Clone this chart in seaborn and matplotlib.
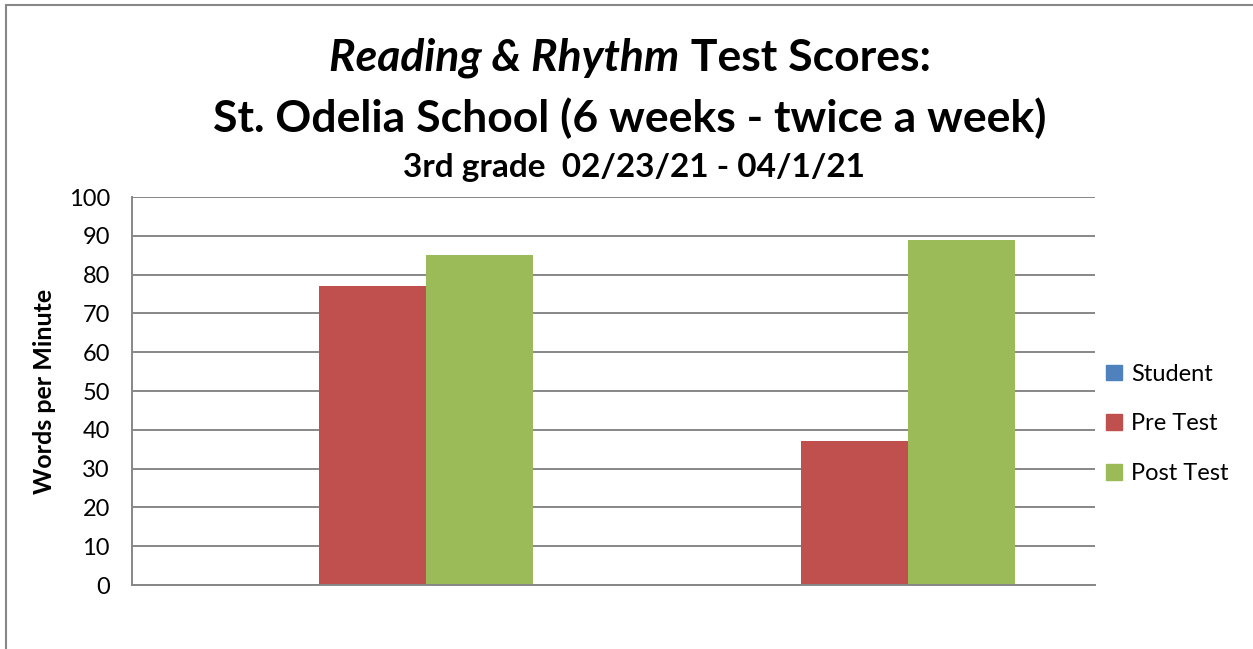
import matplotlib
matplotlib.use("Agg")
import matplotlib.pyplot as plt
import matplotlib.patches as mpatches
import pandas as pd
import seaborn as sns

# Data
groups = ["A", "B"]
series = ["Student", "Pre Test", "Post Test"]
student = [0, 0]
pre_test = [77, 37]
post_test = [85, 89]
colors = ["#4F81BD", "#C0504D", "#9BBB59"]

df = pd.DataFrame({
    "group": groups * 3,
    "series": ["Student"] * 2 + ["Pre Test"] * 2 + ["Post Test"] * 2,
    "value": student + pre_test + post_test,
})

sns.set_style("white")
plt.rcParams["font.family"] = ["Lato", "DejaVu Sans"]
plt.rcParams["text.color"] = "black"
plt.rcParams["ytick.color"] = "black"

fig = plt.figure(figsize=(12.53, 6.49), dpi=100)
ax = fig.add_axes([132 / 1253, 1 - 585 / 649, (1095 - 132) / 1253, (585 - 197) / 649])

sns.barplot(data=df, x="group", y="value", hue="series", hue_order=series,
            palette=colors, width=0.667, gap=0, ax=ax, legend=False,
            edgecolor="none", linewidth=0, saturation=1, errorbar=None)

ax.set_ylim(0, 100)
ax.set_xlim(-0.5, 1.5)
ax.set_yticks(range(0, 101, 10))
ax.yaxis.grid(True, color="#878787", linewidth=1.4)
ax.set_axisbelow(True)
ax.set_xticks([])
ax.set_xlabel("")
ax.set_ylabel("")
ax.tick_params(axis="y", length=0, pad=16, labelsize=17, labelcolor="black")
for s in ["top", "right"]:
    ax.spines[s].set_visible(False)
for s in ["left", "bottom"]:
    ax.spines[s].set_color("#878787")
    ax.spines[s].set_linewidth(1.4)

fig.text(45 / 1253, 1 - 391 / 649, "Words per Minute", fontsize=18, fontweight="bold",
         rotation=90, ha="center", va="center", color="black")

handles = [mpatches.Patch(color=c, label=l) for c, l in zip(colors, series)]
fig.legend(handles=handles, loc="center left", bbox_to_anchor=(1085 / 1253, 1 - 424 / 649),
           frameon=False, fontsize=17, handlelength=0.65, handleheight=0.65,
           handletextpad=0.4, labelspacing=1.22, labelcolor="black")

# Title: first line mixes italic and bold
t1 = fig.text(0, 1 - 58 / 649, "Reading & Rhythm", fontsize=32, fontweight="bold",
              fontstyle="italic", ha="left", va="center", color="black")
t2 = fig.text(0, 1 - 58 / 649, " Test Scores:", fontsize=32, fontweight="bold",
              ha="left", va="center", color="black")
fig.canvas.draw()
r = fig.canvas.get_renderer()
w1 = t1.get_window_extent(r).width
w2 = t2.get_window_extent(r).width
start = 630 - (w1 + w2) / 2
t1.set_x(start / 1253)
t2.set_x((start + w1) / 1253)

fig.text(630 / 1253, 1 - 118 / 649, "St. Odelia School (6 weeks - twice a week)",
         fontsize=32, fontweight="bold", ha="center", va="center", color="black")
fig.text(634 / 1253, 1 - 167 / 649, "3rd grade  02/23/21 - 04/1/21",
         fontsize=24, fontweight="bold", ha="center", va="center", color="black")

# outer chart frame
fig.patches.append(mpatches.Rectangle((6 / 1253, -0.1), 1.2, 1 - 5 / 649 + 0.1,
                                      transform=fig.transFigure, fill=False,
                                      edgecolor="#878787", linewidth=1.5))

fig.savefig("out.png", dpi=100)
